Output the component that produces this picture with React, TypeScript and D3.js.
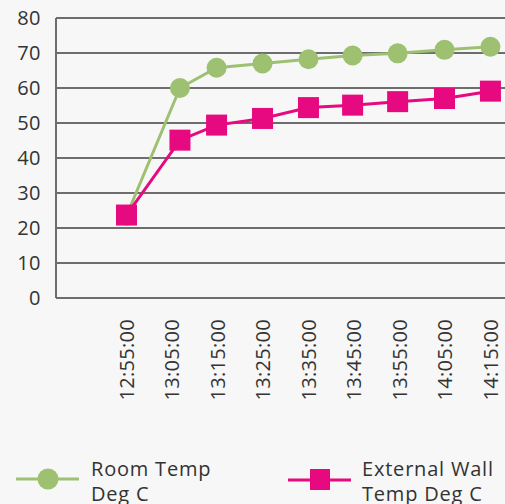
import React from "react";
import { scaleLinear, line } from "d3";

// sample times (minutes after 12:55) and readings
const sampleMinutes = [0, 11.75, 19.8, 29.9, 40, 49.7, 59.6, 69.9, 80];
const roomTemp = [23.5, 60, 65.8, 67, 68.2, 69.3, 69.9, 70.9, 71.8];
const wallTemp = [23.7, 45.1, 49.4, 51.3, 54.4, 55.1, 56.1, 57.0, 59.1];

const tickMinutes = [0, 10, 20, 30, 40, 50, 60, 70, 80];
const tickLabels = [
  "12:55:00",
  "13:05:00",
  "13:15:00",
  "13:25:00",
  "13:35:00",
  "13:45:00",
  "13:55:00",
  "14:05:00",
  "14:15:00",
];
const yTicks = [0, 10, 20, 30, 40, 50, 60, 70, 80];

const GREEN = "#9dc171";
const PINK = "#e6097f";
const GRID = "#6d6d6d";
const TEXT = "#333333";
const FONT = "'Open Sans', sans-serif";

export default function App() {
  const width = 505;
  const height = 504;
  const left = 56;
  const right = 505;
  const top = 18;
  const bottom = 298;

  const x = scaleLinear().domain([-15.5, 83.2]).range([left, right]);
  const y = scaleLinear().domain([0, 80]).range([bottom, top]);

  const path = (vals: number[]) =>
    line<number>()
      .x((_, i) => x(sampleMinutes[i]))
      .y((d) => y(d))(vals) || "";

  const sq = 21;

  return (
    <div style={{ position: "absolute", left: 0, top: 0 }}>
      <svg width={width} height={height} style={{ display: "block" }}>
        <rect width={width} height={height} fill="#f7f7f7" />

        {yTicks.map((t) => (
          <g key={`y-${t}`}>
            <line
              x1={left}
              x2={right}
              y1={y(t)}
              y2={y(t)}
              stroke={GRID}
              strokeWidth={2}
            />
            <text
              x={41}
              y={y(t)}
              dy="0.36em"
              textAnchor="end"
              fontFamily={FONT}
              fontSize={20}
              letterSpacing={0.5}
              fill={TEXT}
            >
              {t}
            </text>
          </g>
        ))}
        <line
          x1={left}
          x2={left}
          y1={top}
          y2={bottom}
          stroke={GRID}
          strokeWidth={2}
        />

        {tickMinutes.map((m, i) => (
          <text
            key={`x-${m}`}
            transform={`translate(${x(m)},${319}) rotate(-90)`}
            dy="0.36em"
            textAnchor="end"
            fontFamily={FONT}
            fontSize={20}
            letterSpacing={0.3}
            fill={TEXT}
          >
            {tickLabels[i]}
          </text>
        ))}

        <path d={path(roomTemp)} fill="none" stroke={GREEN} strokeWidth={3} />
        {roomTemp.map((v, i) => (
          <circle
            key={`g-${i}`}
            cx={x(sampleMinutes[i])}
            cy={y(v)}
            r={10}
            fill={GREEN}
          />
        ))}

        <path d={path(wallTemp)} fill="none" stroke={PINK} strokeWidth={3} />
        {wallTemp.map((v, i) => (
          <rect
            key={`p-${i}`}
            x={x(sampleMinutes[i]) - sq / 2}
            y={y(v) - sq / 2}
            width={sq}
            height={sq}
            fill={PINK}
          />
        ))}

        {/* legend */}
        <g>
          <line x1={16} x2={79} y1={479} y2={479} stroke={GREEN} strokeWidth={3} />
          <circle cx={48} cy={479} r={10.5} fill={GREEN} />
          <text
            x={91}
            y={476}
            fontFamily={FONT}
            fontSize={20}
            letterSpacing={0.8}
            fill={TEXT}
          >
            <tspan x={91}>Room Temp</tspan>
            <tspan x={91} dy={25}>
              Deg C
            </tspan>
          </text>

          <line x1={288} x2={351} y1={480} y2={480} stroke={PINK} strokeWidth={3} />
          <rect x={310} y={469} width={20} height={21} fill={PINK} />
          <text
            x={362}
            y={476}
            fontFamily={FONT}
            fontSize={20}
            letterSpacing={0.8}
            fill={TEXT}
          >
            <tspan x={362}>External Wall</tspan>
            <tspan x={362} dy={25}>
              Temp Deg C
            </tspan>
          </text>
        </g>
      </svg>
    </div>
  );
}
